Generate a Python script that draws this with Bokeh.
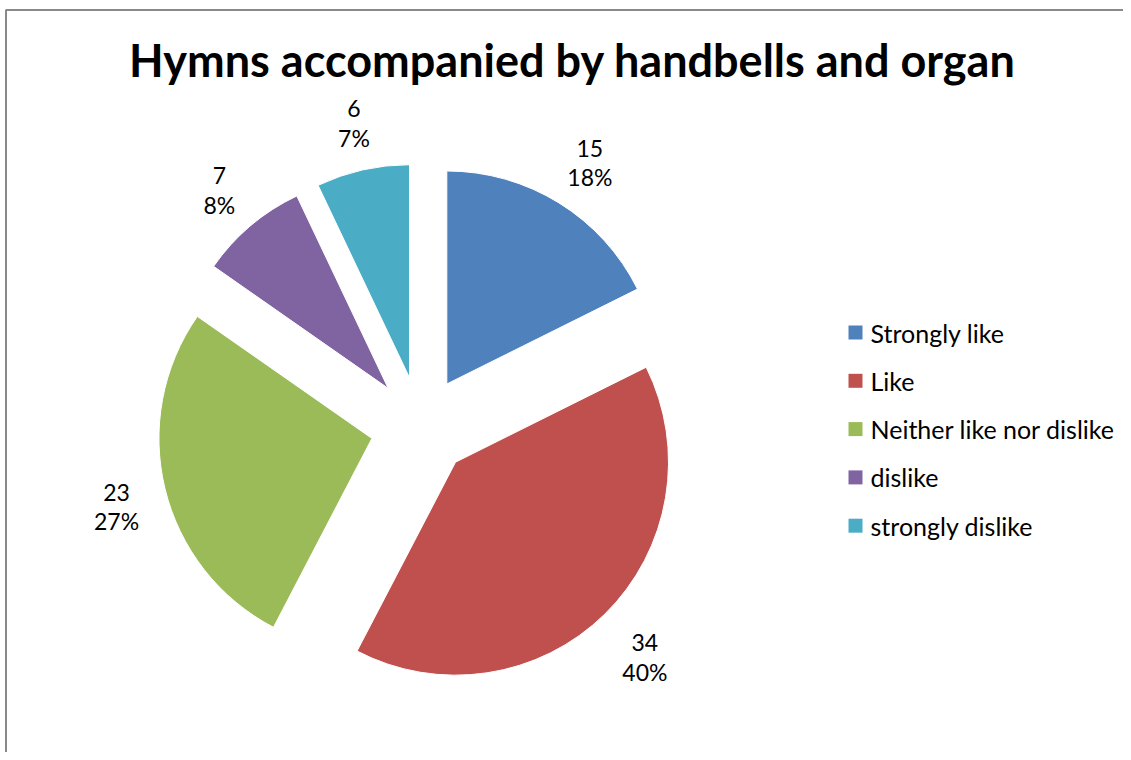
import numpy as np
from bokeh.plotting import figure
from bokeh.models import Range1d
from bokeh.core.properties import value
from bokeh.embed import file_html
from bokeh.resources import INLINE

title = "Hymns accompanied by handbells and organ"
categories = ["Strongly like", "Like", "Neither like nor dislike", "dislike", "strongly dislike"]
counts = [15, 34, 23, 7, 6]
colors = ["#4F81BD", "#C0504D", "#9BBB59", "#8064A2", "#4BACC6"]

W, H = 1123, 752
p = figure(width=W, height=H, output_backend="svg", toolbar_location=None,
           x_range=Range1d(0, W), y_range=Range1d(-H, 0),
           x_axis_type=None, y_axis_type=None, min_border=0)
p.outline_line_color = None
p.grid.visible = False
p.background_fill_color = "white"

# chart border (left and top visible)
p.line(x=[5.5, 5.5, W], y=[-H, -9.5, -9.5], line_color="#898989", line_width=2)

FONT = "Lato"
p.text(x=[572], y=[-59], text=[title], text_font=value(FONT), text_font_style="bold",
       text_font_size="45px", text_align="center", text_baseline="middle", text_color="black")

# pie geometry
cx, cy = 420.0, -426.0
R = 213.0
explode = 50.0
label_r = 316.0

vals = np.array(counts, dtype=float)
frac = vals / vals.sum()
sweep = frac * 2 * np.pi
start = np.pi / 2 - np.concatenate([[0], np.cumsum(sweep)[:-1]])  # clockwise from top
end = start - sweep
mid = (start + end) / 2
xs = cx + explode * np.cos(mid)
ys = cy + explode * np.sin(mid)

p.wedge(x=xs, y=ys, radius=R, start_angle=end, end_angle=start, direction="anticlock",
        fill_color=colors, line_color="white", line_width=1)

# data labels (value on first line, percentage on second)
lx = cx + label_r * np.cos(mid) + 3
ly = cy + label_r * np.sin(mid) - 5
pcts = [f"{round(f * 100):d}%" for f in frac]
p.text(x=lx, y=ly + 14.5, text=[str(c) for c in counts], text_font=value(FONT),
       text_font_size="23px", text_align="center", text_baseline="middle", text_color="black")
p.text(x=lx, y=ly - 14.5, text=pcts, text_font=value(FONT),
       text_font_size="23px", text_align="center", text_baseline="middle", text_color="black")

# legend
leg_y = -332 - 48.3 * np.arange(len(categories))
p.scatter(x=[855] * len(categories), y=leg_y, marker="square", size=14,
          fill_color=colors, line_color=None)
p.text(x=[870] * len(categories), y=leg_y, text=categories, text_font=value(FONT),
       text_font_size="25px", text_align="left", text_baseline="middle", text_color="black")

open("out.html", "w").write(file_html(p, INLINE))
